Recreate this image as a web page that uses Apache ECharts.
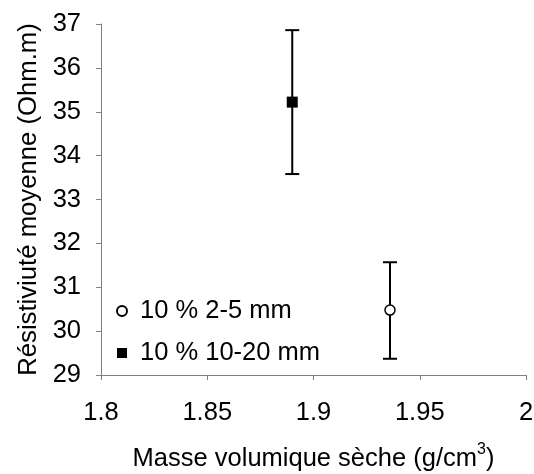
<!DOCTYPE html>
<html>
<head>
<meta charset="utf-8">
<script src="https://cdn.jsdelivr.net/npm/echarts@6/dist/echarts.min.js"></script>
<style>html,body{margin:0;padding:0;background:#fff}#c{width:534px;height:474px}</style>
</head>
<body>
<div id="c"></div>
<script>
// Data
const seriesNames = ['10 % 2-5 mm', '10 % 10-20 mm'];
const xValues = [1.936, 1.890];
const yValues = [30.48, 35.22];
const yHigh = [31.57, 36.86];
const yLow = [29.37, 33.58];
const xTicks = [1.8, 1.85, 1.9, 1.95, 2];
const yTicks = [29, 30, 31, 32, 33, 34, 35, 36, 37];

const FONT = 'Liberation Sans, Arial, sans-serif';
const AXIS_COLOR = '#808080';
const SQUARE_PATH = 'path://M0,0L10,0L10,10L0,10Z';

const chart = echarts.init(document.getElementById('c'), null, {renderer: 'canvas'});

const errData = xValues.map((x, i) => [x, yLow[i], yHigh[i]]);

const option = {
  backgroundColor: '#fff',
  animation: false,
  grid: {left: 101, right: 8, top: 24, bottom: 99, containLabel: false, outerBoundsMode: 'none'},
  legend: {
    orient: 'vertical',
    left: 116,
    top: 298,
    padding: 0,
    itemGap: 16,
    itemWidth: 26,
    itemHeight: 10,
    data: [
      {name: seriesNames[0], icon: 'circle'},
      {name: seriesNames[1], icon: SQUARE_PATH}
    ],
    textStyle: {fontFamily: FONT, fontSize: 25.5, color: '#000'},
    selectedMode: false
  },
  xAxis: {
    type: 'value',
    min: xTicks[0],
    max: xTicks[xTicks.length - 1],
    interval: xTicks[1] - xTicks[0],
    name: '{n|Masse volumique sèche (g/cm}{s|3}{n|)}',
    nameLocation: 'middle',
    nameGap: 67,
    nameTextStyle: {
      rich: {
        n: {fontFamily: FONT, fontSize: 25.5, color: '#000', lineHeight: 30, verticalAlign: 'bottom'},
        s: {fontFamily: FONT, fontSize: 16, color: '#000', lineHeight: 30, verticalAlign: 'top'}
      }
    },
    axisLine: {show: true, onZero: false, lineStyle: {color: AXIS_COLOR, width: 1}},
    axisTick: {show: true, inside: false, length: 5, lineStyle: {color: AXIS_COLOR}},
    axisLabel: {
      margin: 25, fontFamily: FONT, fontSize: 25.5, color: '#000',
      formatter: v => String(parseFloat(v.toFixed(2)))
    },
    splitLine: {show: false}
  },
  yAxis: {
    type: 'value',
    min: yTicks[0],
    max: yTicks[yTicks.length - 1],
    interval: yTicks[1] - yTicks[0],
    name: 'Résistiviuté moyenne (Ohm.m)',
    nameLocation: 'middle',
    nameGap: 58,
    nameRotate: 90,
    nameTextStyle: {fontFamily: FONT, fontSize: 25.7, color: '#000'},
    axisLine: {show: true, onZero: false, lineStyle: {color: AXIS_COLOR, width: 1}},
    axisTick: {show: true, inside: false, length: 5, lineStyle: {color: AXIS_COLOR}},
    axisLabel: {margin: 20, fontFamily: FONT, fontSize: 25.5, color: '#000'},
    splitLine: {show: false}
  },
  series: [
    {
      name: 'errorbars',
      type: 'custom',
      z: 1,
      silent: true,
      data: errData,
      encode: {x: 0, y: [1, 2]},
      renderItem: function (params, api) {
        const x = api.value(0);
        const lo = api.coord([x, api.value(1)]);
        const hi = api.coord([x, api.value(2)]);
        const hw = 7;
        const style = {stroke: '#000', lineWidth: 2, fill: null};
        return {
          type: 'group',
          children: [
            {type: 'line', shape: {x1: lo[0], y1: lo[1], x2: hi[0], y2: hi[1]}, style: style},
            {type: 'line', shape: {x1: lo[0] - hw, y1: lo[1], x2: lo[0] + hw, y2: lo[1]}, style: style},
            {type: 'line', shape: {x1: hi[0] - hw, y1: hi[1], x2: hi[0] + hw, y2: hi[1]}, style: style}
          ]
        };
      }
    },
    {
      name: seriesNames[0],
      type: 'scatter',
      z: 3,
      symbol: 'circle',
      symbolSize: 10,
      itemStyle: {color: '#fff', borderColor: '#000', borderWidth: 1.5, opacity: 1},
      data: [[xValues[0], yValues[0]]]
    },
    {
      name: seriesNames[1],
      type: 'scatter',
      z: 3,
      symbol: 'rect',
      symbolSize: 11,
      itemStyle: {color: '#000', borderColor: '#000', borderWidth: 0, opacity: 1},
      data: [[xValues[1], yValues[1]]]
    }
  ]
};
chart.setOption(option);
</script>
</body>
</html>
